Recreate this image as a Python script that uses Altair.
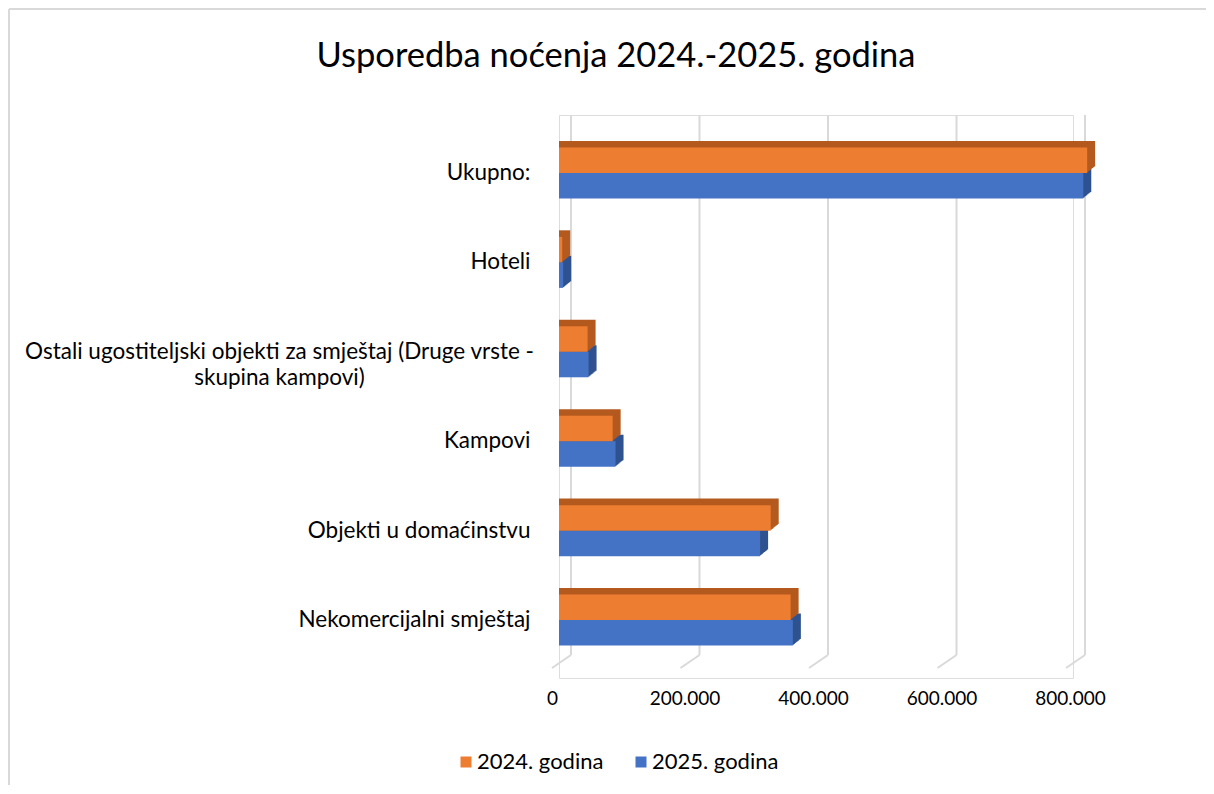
import altair as alt
import pandas as pd

# ---- data ----
categories = [
    "Ukupno:",
    "Hoteli",
    "Ostali ugostiteljski objekti za smještaj (Druge vrste - skupina kampovi)",
    "Kampovi",
    "Objekti u domaćinstvu",
    "Nekomercijalni smještaj",
]
long_label_lines = ["Ostali ugostiteljski objekti za smještaj (Druge vrste -", "skupina kampovi)"]
series = ["2024. godina", "2025. godina"]
values_2024 = [822000, 5000, 44500, 83500, 329500, 360500]
values_2025 = [816000, 6500, 46000, 88000, 313000, 364000]
tick_values = [0, 200000, 400000, 600000, 800000]

front_colors = ["#ED7D31", "#4472C4"]
side_colors = ["#B45A1F", "#2F5290"]
grid_color = "#D9D9D9"
FONT = "Lato"

rows = []
for c, v in zip(categories, values_2024):
    rows.append({"category": c, "series": series[0], "value": v})
for c, v in zip(categories, values_2025):
    rows.append({"category": c, "series": series[1], "value": v})
df = pd.DataFrame(rows)
ticks_df = pd.DataFrame({"tick": tick_values})

W, H = 514, 563
BAR_H = 25.5
DEPTH = 8
GRID_BOTTOM = 540

long_test = "datum.value == '" + categories[2] + "'"
label_expr = (
    long_test + " ? ['" + long_label_lines[0] + "', '" + long_label_lines[1] + "'] : datum.label"
)

x_axis = alt.Axis(
    values=tick_values,
    labelExpr="replace(format(datum.value, ','), regexp(',', 'g'), '.')",
    grid=False, ticks=False, domain=False, labelFlush=False,
    labelFont=FONT, labelFontSize=19, labelColor="#000000",
    labelPadding=11,
    labelOffset={"condition": {"test": "datum.value == 0", "value": -7}, "value": -3},
)
y_axis = alt.Axis(
    grid=False, ticks=False, domain=False,
    labelFont=FONT, labelFontSize=22.5, labelColor="#000000",
    labelLimit=600, labelLineHeight=26,
    labelExpr=label_expr,
    labelAlign={"condition": {"test": long_test, "value": "center"}, "value": "right"},
    labelPadding={"condition": {"test": long_test, "value": 280}, "value": 29},
)

x_scale = alt.Scale(domain=[0, 800000], nice=False, zero=True)
y_scale = alt.Scale(domain=categories, paddingInner=0, paddingOuter=0.148)


def xenc(field="value"):
    return alt.X(f"{field}:Q", scale=x_scale, axis=x_axis, stack=None, title=None)


def yenc():
    return alt.Y("category:N", sort=categories, scale=y_scale, axis=y_axis, title=None)


# background gridlines (back wall) and the slanted floor ticks
grid = alt.Chart(ticks_df).mark_rule(
    color=grid_color, strokeWidth=2, xOffset=12
).encode(
    x=xenc("tick"), y=alt.value(0), y2=alt.value(GRID_BOTTOM)
)
floor = alt.Chart(ticks_df).mark_rule(
    color=grid_color, strokeWidth=2, xOffset=12, x2Offset=-7
).encode(
    x=xenc("tick"), x2=alt.X2("tick"), y=alt.value(GRID_BOTTOM), y2=alt.value(GRID_BOTTOM + 13)
)

# chart frame (top and left border)
frame_top = alt.Chart(ticks_df).mark_rule(color=grid_color, strokeWidth=1.5).encode(
    x=alt.value(-550), x2=alt.value(W + 140), y=alt.value(-106)
)
frame_left = alt.Chart(ticks_df).mark_rule(color=grid_color, strokeWidth=1.5).encode(
    x=alt.value(-550), y=alt.value(-106), y2=alt.value(H + 120)
)

layers = [frame_top, frame_left, grid, floor]

y_offsets = [-BAR_H / 2, BAR_H / 2]

# 3D depth (side & top faces) : blue first, then orange
for s_idx in [1, 0]:
    for k in range(DEPTH, 0, -1):
        layers.append(
            alt.Chart(df)
            .transform_filter(alt.datum.series == series[s_idx])
            .mark_bar(
                color=side_colors[s_idx], height=BAR_H,
                xOffset=k, x2Offset=k,
                yOffset=y_offsets[s_idx] - k * 0.82,
            )
            .encode(x=xenc(), y=yenc())
        )

# front faces: blue then orange
for s_idx in [1, 0]:
    layers.append(
        alt.Chart(df)
        .transform_filter(alt.datum.series == series[s_idx])
        .mark_bar(height=BAR_H, yOffset=y_offsets[s_idx])
        .encode(
            x=xenc(),
            y=yenc(),
            color=alt.Color(
                "series:N",
                scale=alt.Scale(domain=series, range=front_colors),
                legend=alt.Legend(
                    title=None, orient="none", legendX=-104, legendY=636,
                    direction="horizontal", symbolType="square", symbolSize=121,
                    symbolStrokeWidth=0, labelFont=FONT, labelFontSize=22,
                    labelColor="#000000", labelOffset=0, columnPadding=26,
                ),
            ),
        )
    )

chart = (
    alt.layer(*layers)
    .properties(
        width=W,
        height=H,
        padding={"left": 551, "top": 107, "right": 133, "bottom": 107},
        autosize=alt.AutoSizeParams(type="none"),
        title=alt.TitleParams(
            "Usporedba noćenja 2024.-2025. godina",
            font=FONT, fontSize=34.5, fontWeight="normal", color="#000000",
            anchor="middle", frame="group", dx=-200, offset=-66,
        ),
    )
    .configure_view(stroke=None)
    .configure(background="white")
)

chart.save("out.html", embed_options={"renderer": "svg", "actions": False})
